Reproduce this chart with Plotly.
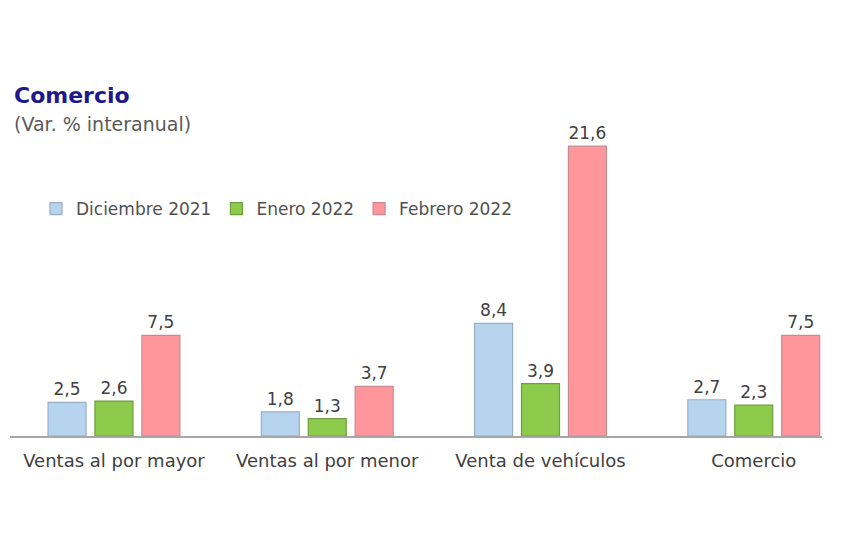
import plotly.graph_objects as go

categories = ["Ventas al por mayor", "Ventas al por menor", "Venta de vehículos", "Comercio"]
series_names = ["Diciembre 2021", "Enero 2022", "Febrero 2022"]
dic_2021 = [2.5, 1.8, 8.4, 2.7]
ene_2022 = [2.6, 1.3, 3.9, 2.3]
feb_2022 = [7.5, 3.7, 21.6, 7.5]

fills = ["#B7D4EF", "#8DCB4C", "#FF969B"]
borders = ["#98AEC6", "#6E9E3F", "#C88A8F"]
FONT = "DejaVu Sans, Arial"

PLOT_TOP, PLOT_BOTTOM = 114, 436
PLOT_H = PLOT_BOTTOM - PLOT_TOP


def py(pixel_y):
    """container pixel y -> paper fraction"""
    return (PLOT_BOTTOM - pixel_y) / PLOT_H


fig = go.Figure()
for name, vals, fc, bc in zip(series_names, [dic_2021, ene_2022, feb_2022], fills, borders):
    fig.add_trace(go.Bar(
        x=categories, y=vals, name=name,
        marker=dict(color=fc, line=dict(color=bc, width=1.2)),
        text=[f"{v:.1f}".replace(".", ",") for v in vals],
        textposition="outside",
        textfont=dict(family=FONT, size=17, color="#404040"),
        cliponaxis=False,
    ))

fig.update_layout(
    width=850, height=560,
    margin=dict(l=10, r=28, t=PLOT_TOP, b=560 - PLOT_BOTTOM, autoexpand=False),
    paper_bgcolor="white", plot_bgcolor="white",
    barmode="group", bargap=0.34, bargroupgap=0.19,
    font=dict(family=FONT, color="#404040"),
    showlegend=True,
    legend=dict(
        orientation="h", x=0.032, xanchor="left", y=py(209), yref="paper", yanchor="middle",
        font=dict(family=FONT, size=17, color="#505050"), itemwidth=30,
        bgcolor="rgba(0,0,0,0)", traceorder="normal",
    ),
    xaxis=dict(
        range=[-0.4875, 3.32], showline=True, linecolor="#A6A6A6", linewidth=1.5,
        ticks="", tickfont=dict(family=FONT, size=18, color="#404040"), showgrid=False,
        ticklabelstandoff=8,
    ),
    yaxis=dict(range=[0, 24], visible=False, showgrid=False, zeroline=False),
)

fig.add_annotation(text="<b>Comercio</b>", xref="paper", yref="paper", x=0.002, y=py(95),
                   xanchor="left", yanchor="middle", showarrow=False,
                   font=dict(family=FONT, size=22, color="#1E1A8C"))
fig.add_annotation(text="(Var. % interanual)", xref="paper", yref="paper", x=0.002, y=py(124),
                   xanchor="left", yanchor="middle", showarrow=False,
                   font=dict(family=FONT, size=19, color="#595959"))

fig.write_html("out.html")
